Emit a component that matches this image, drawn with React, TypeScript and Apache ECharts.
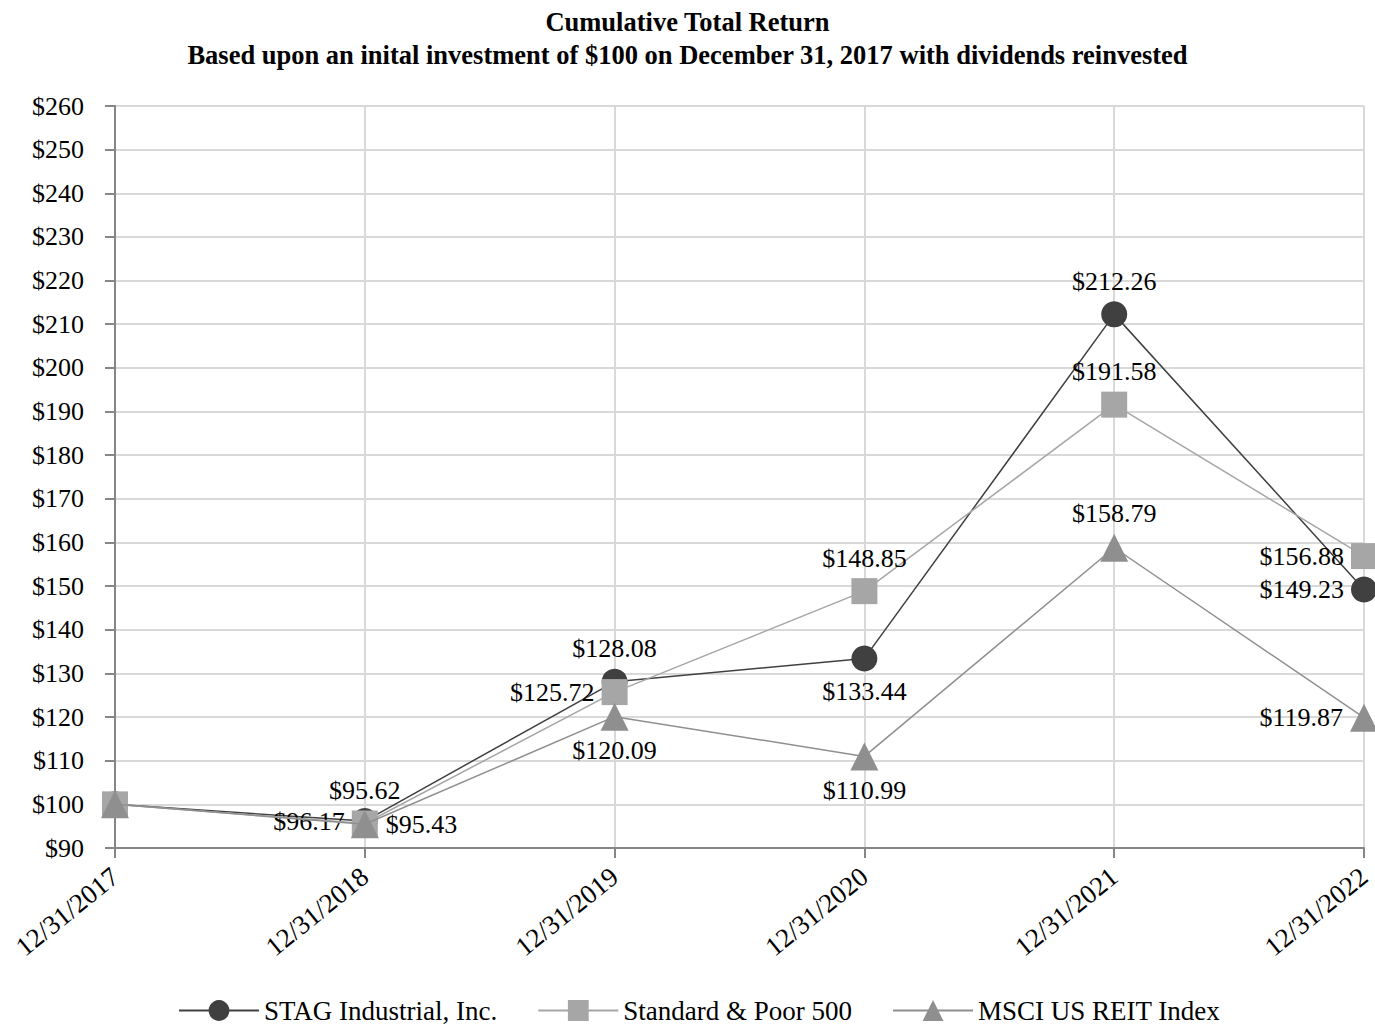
import React, { useEffect, useRef } from "react";
import * as echarts from "echarts";

const categories = ["12/31/2017", "12/31/2018", "12/31/2019", "12/31/2020", "12/31/2021", "12/31/2022"];
const stag = [100, 96.17, 128.08, 133.44, 212.26, 149.23];
const sp500 = [100, 95.62, 125.72, 148.85, 191.58, 156.88];
const msci = [100, 95.43, 120.09, 110.99, 158.79, 119.87];
const stagPos = [null, "left", "top", "bottom", "top", "left"];
const spPos = [null, "top", "left", "top", "top", "left"];
const msciPos = [null, "right", "bottom", "bottom", "top", "left"];

const FONT = "Liberation Serif";
const FS = 26;

function build(values: number[], pos: (string | null)[]) {
  return values.map((v, i) => ({
    value: v,
    label: pos[i]
      ? { show: true, position: pos[i], formatter: "$" + v.toFixed(2), distance: 7 }
      : { show: false },
  }));
}

export default function App() {
  const ref = useRef<HTMLDivElement>(null);
  useEffect(() => {
    const chart = echarts.init(ref.current!, null, { renderer: "svg" });
    const labelStyle = { fontFamily: FONT, fontSize: FS, color: "#000" };
    chart.setOption({
      animation: false,
      backgroundColor: "#fff",
      title: {
        text: "Cumulative Total Return\nBased upon an inital investment of $100 on December 31, 2017 with dividends reinvested",
        left: "center",
        top: 0,
        textStyle: { fontFamily: FONT, fontSize: 26.5, fontWeight: "bold", color: "#000", lineHeight: 33 },
      },
      grid: { left: 115, right: 11, top: 106, bottom: 178, containLabel: false },
      legend: {
        top: 997,
        left: 178,
        padding: 0,
        itemWidth: 80,
        itemHeight: 26,
        itemGap: 40,
        textStyle: { fontFamily: FONT, fontSize: 27, color: "#000", lineHeight: 26 },
        data: ["STAG Industrial, Inc.", "Standard & Poor 500", "MSCI US REIT Index"],
      },
      xAxis: {
        type: "category",
        data: categories,
        boundaryGap: false,
        axisLine: { lineStyle: { color: "#868686", width: 2 } },
        axisTick: { show: true, length: 10, lineStyle: { color: "#868686", width: 2 } },
        axisLabel: { rotate: 39, margin: 25, fontFamily: FONT, fontSize: 27, color: "#000" },
        splitLine: { show: true, lineStyle: { color: "#d9d9d9", width: 2 } },
      },
      yAxis: {
        type: "value",
        min: 90,
        max: 260,
        interval: 10,
        axisLine: { show: true, lineStyle: { color: "#868686", width: 2 } },
        axisTick: { show: true, length: 10, lineStyle: { color: "#868686", width: 2 } },
        axisLabel: { margin: 31, fontFamily: FONT, fontSize: FS, color: "#000", formatter: (v: number) => "$" + v },
        splitLine: { show: true, lineStyle: { color: "#d9d9d9", width: 2 } },
      },
      series: [
        {
          name: "STAG Industrial, Inc.",
          type: "line",
          data: build(stag, stagPos),
          symbol: "circle",
          symbolSize: 26,
          color: "#404040",
          lineStyle: { width: 1.5, color: "#404040" },
          itemStyle: { color: "#404040" },
          label: labelStyle,
          z: 3,
        },
        {
          name: "Standard & Poor 500",
          type: "line",
          data: build(sp500, spPos),
          symbol: "rect",
          symbolSize: 26,
          color: "#a6a6a6",
          lineStyle: { width: 1.5, color: "#a6a6a6" },
          itemStyle: { color: "#a6a6a6" },
          label: labelStyle,
          z: 4,
        },
        {
          name: "MSCI US REIT Index",
          type: "line",
          data: build(msci, msciPos),
          symbol: "triangle",
          symbolSize: 28,
          color: "#8f8f8f",
          lineStyle: { width: 1.5, color: "#8f8f8f" },
          itemStyle: { color: "#8f8f8f" },
          label: labelStyle,
          z: 5,
        },
      ],
    });
    return () => chart.dispose();
  }, []);
  return (
    <div
      ref={ref}
      style={{ position: "fixed", left: 0, top: 0, width: 1375, height: 1026, background: "#fff" }}
    />
  );
}
